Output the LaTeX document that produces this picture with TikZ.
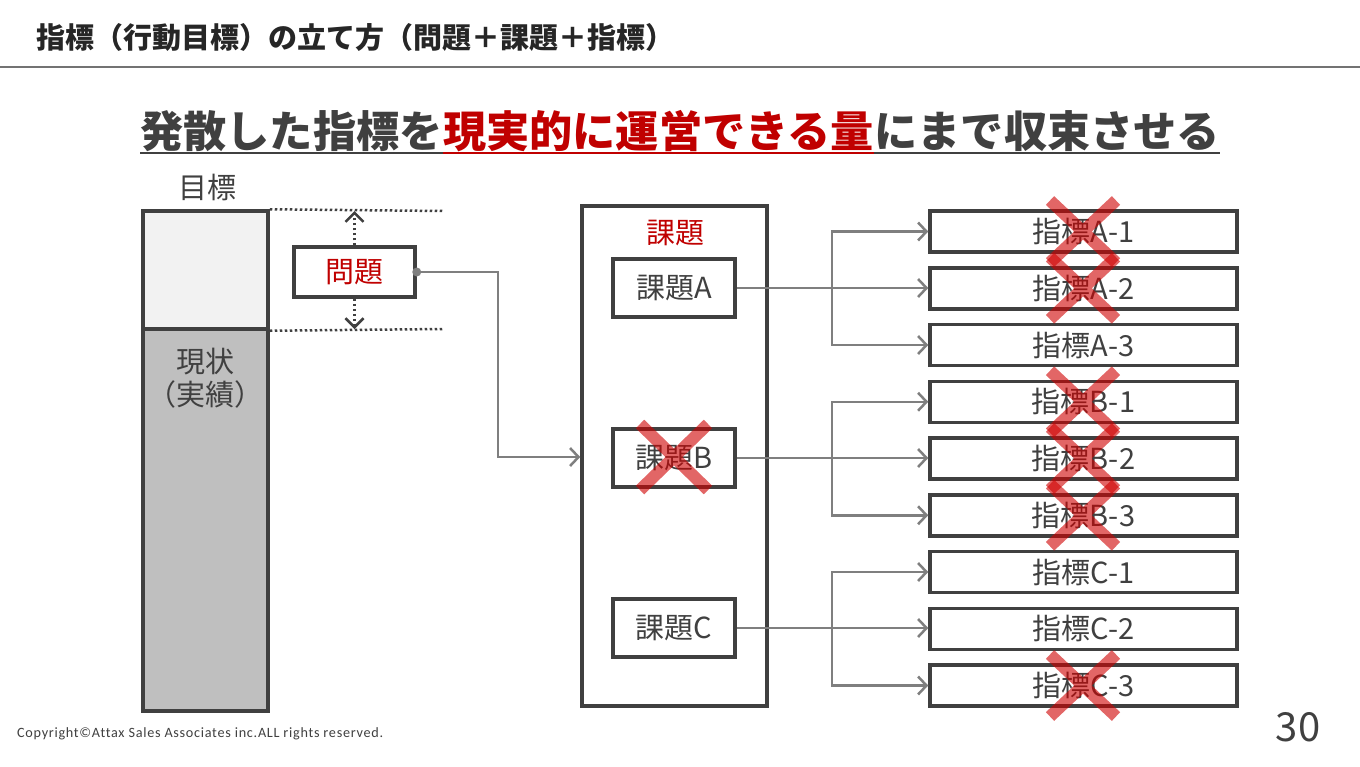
\documentclass[tikz,border=0pt]{standalone}
\usepackage{fontspec}
\setmainfont{Noto Sans CJK JP}
\newfontfamily\copyfont[LetterSpace=5,Ligatures={NoCommon}]{Carlito}
\usetikzlibrary{arrows.meta,calc}
\newcommand\fs[1]{\fontsize{#1}{#1}\selectfont}
\definecolor{txt}{HTML}{404040}
\definecolor{redtxt}{HTML}{C00000}
\definecolor{conn}{HTML}{7F7F7F}
\definecolor{xred}{RGB}{208,0,0}
\definecolor{lightfill}{HTML}{F2F2F2}
\definecolor{darkfill}{HTML}{BFBFBF}
\tikzset{
  box/.style={draw=txt, line width=3.5, fill=white, inner sep=0, text=txt, font=\fs{29}},
  idx/.style={box, minimum width=307, minimum height=41},
  kbox/.style={box, minimum width=122, minimum height=58},
  arr/.style={draw=conn, line width=2.5, -{Straight Barb[length=8.5,width=18,line width=2.5]}},
  dotl/.style={draw=txt, line width=2.5, dash pattern=on 2.5 off 2.5},
  xline/.style={draw=xred, draw opacity=0.6, line width=12},
  xm/.pic={\draw[xline] (-33,-31) -- (33,31) (-33,31) -- (33,-31);},
  xmb/.pic={\draw[xline] (-34,-33) -- (34,33) (-34,33) -- (34,-33);},
}
\begin{document}
\begin{tikzpicture}[x=1pt,y=-1pt]
\useasboundingbox[fill=white] (0,0) rectangle (1360,766);
% header
\node[anchor=west, inner sep=0, font=\bfseries\fs{29}, text=black!85] (title) at (36,37) {指標（行動目標）の立て方（問題＋課題＋指標）};
\draw[draw=black!55, line width=2] (0,67) -- (1360,67);
% heading
\node[anchor=base west, inner sep=0, font=\bfseries\fs{43.2}, text=txt] (h1) at (140,147) {発散した指標を};
\node[anchor=base west, inner sep=0, font=\bfseries\fs{43.2}, text=redtxt] (h2) at (h1.base east) {現実的に運営できる量};
\node[anchor=base west, inner sep=0, font=\bfseries\fs{43.2}, text=txt] (h3) at (h2.base east) {にまで収束させる};
\draw[draw=txt, line width=2.5] (h1.west |- 0,153) -- (h1.east |- 0,153);
\draw[draw=redtxt, line width=2.5] (h2.west |- 0,153) -- (h2.east |- 0,153);
\draw[draw=txt, line width=2.5] (h3.west |- 0,153) -- (h3.east |- 0,153);
% left bar
\node[text=txt, font=\fs{29}, inner sep=0] (goallabel) at (207,187) {目標};
\node[box, fill=lightfill, minimum width=125, minimum height=118] (goal) at (205.5,270) {};
\node[box, fill=darkfill, minimum width=125, minimum height=382] (current) at (205.5,520) {};
\node[text=txt, font=\fs{29}, inner sep=0, align=center, anchor=north] (curlabel) at (205,348) {現状\\[4pt]（実績）};
% dotted guide lines
\coordinate (dt) at (443,211);
\coordinate (db) at (443,329);
\draw[dotl] (goal.north east) -- (dt);
\draw[dotl] (goal.south east) -- (db);
% problem box
\node[box, text=redtxt, minimum width=121, minimum height=50] (mondai) at (354.5,272) {問題};
\draw[dotl, -{Straight Barb[length=9,width=18,line width=2.5]}] (mondai.north) -- (mondai.north |- dt);
\draw[dotl, -{Straight Barb[length=9,width=18,line width=2.5]}] (mondai.south) -- (mondai.south |- db);
% issue group
\node[box, minimum width=185, minimum height=500] (group) at (674.5,456) {};
\node[text=redtxt, font=\fs{29}, inner sep=0] (grouplabel) at (675,233) {課題};
\node[kbox] (kA) at (674,288) {課題A};
\node[kbox] (kB) at (674,458) {課題B};
\node[kbox] (kC) at (674,628) {課題C};
% connector from problem
\fill[conn] (mondai.east) circle (4.5);
\draw[arr] (mondai.east) -- (498,272) |- (group.west |- 0,457);
% indicators
\node[idx] (iA1) at (1083.5,231.5) {指標A-1};
\node[idx] (iA2) at (1083.5,288.25) {指標A-2};
\node[idx] (iA3) at (1083.5,345) {指標A-3};
\node[idx] (iB1) at (1083.5,401.75) {指標B-1};
\node[idx] (iB2) at (1083.5,458.5) {指標B-2};
\node[idx] (iB3) at (1083.5,515.25) {指標B-3};
\node[idx] (iC1) at (1083.5,572) {指標C-1};
\node[idx] (iC2) at (1083.5,628.75) {指標C-2};
\node[idx] (iC3) at (1083.5,685.5) {指標C-3};
% connectors
\coordinate (bA) at (832,288);
\coordinate (bB) at (832,458);
\coordinate (bC) at (832,628);
\draw[arr] (kA.east) -- (kA.east -| iA2.west);
\draw[arr] (bA) |- (iA1.west);
\draw[arr] (bA) |- (iA3.west);
\draw[arr] (kB.east) -- (kB.east -| iB2.west);
\draw[arr] (bB) |- (iB1.west);
\draw[arr] (bB) |- (iB3.west);
\draw[arr] (kC.east) -- (kC.east -| iC2.west);
\draw[arr] (bC) |- (iC1.west);
\draw[arr] (bC) |- (iC3.west);
% cross marks
\pic at (1083,231.5) {xm};
\pic at (1083,288.25) {xm};
\pic at (1083,401.75) {xm};
\pic at (1083,458.5) {xm};
\pic at (1083,515.25) {xm};
\pic at (1083,685.5) {xm};
\pic at (674,457) {xmb};
% footer
\node[anchor=west, inner sep=0, font=\copyfont\fs{14.2}, text=txt] (copy) at (17,734) {Copyright©Attax Sales Associates inc.ALL rights reserved.};
\node[inner sep=0, font=\fs{40}, text=txt] (page) at (1298,727) {30};
\end{tikzpicture}
\end{document}
